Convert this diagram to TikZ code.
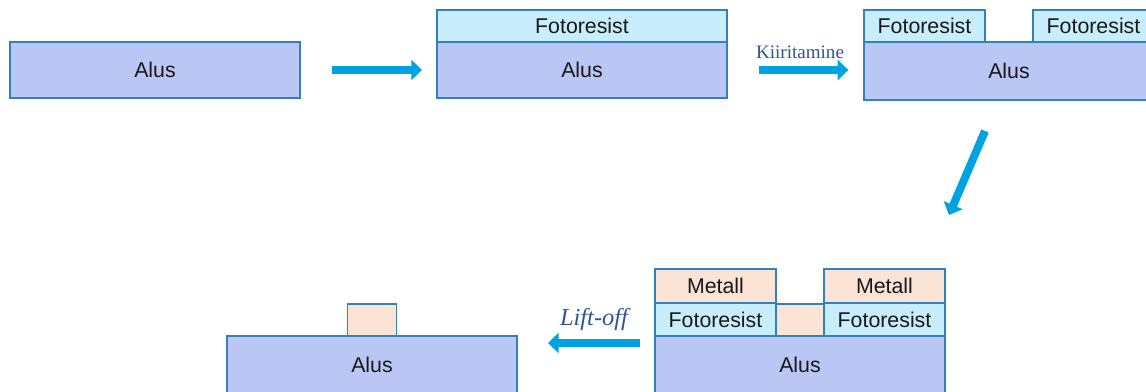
\documentclass[tikz,border=0pt]{standalone}
\usepackage{fontspec}
\setmainfont{Liberation Sans}
\newfontfamily\serifrm{Liberation Serif}
\usetikzlibrary{arrows.meta,positioning}
\definecolor{alusfill}{HTML}{BAC6F3}
\definecolor{resfill}{HTML}{C8EEFD}
\definecolor{metfill}{HTML}{FBE4D5}
\definecolor{edgeblue}{HTML}{3380BE}
\definecolor{arrowblue}{HTML}{00A2E2}
\definecolor{textblue}{HTML}{2F5597}

\tikzset{
  layer/.style={draw=edgeblue, line width=0.8pt, inner sep=0pt, outer sep=0pt,
    font=\fontsize{16}{18}\selectfont, text=black!90},
  alus/.style={layer, fill=alusfill, anchor=north west, minimum width=217.5pt},
  resist/.style={layer, fill=resfill, anchor=south west},
  metal/.style={layer, fill=metfill, anchor=south west},
  blockarrow/.style={draw=arrowblue, line width=5.5pt, -{Triangle[length=8pt,width=15pt]}},
  steplabel/.style={text=textblue, inner sep=0pt},
}

\begin{document}
\begin{tikzpicture}[x=0.75pt,y=-0.75pt]
\useasboundingbox (0,0) rectangle (1146,392);
\clip (0,0) rectangle (1146,392);

% step 1: bare substrate
\node[alus, minimum height=42pt] (alusA) at (10,42) {Alus};

% step 2: resist coated
\node[alus, minimum height=42pt] (alusB) at (437,42) {Alus};
\node[resist, minimum width=217.5pt, minimum height=24pt] (resB) at (alusB.north west) {Fotoresist};

% step 3: exposed and developed
\node[alus, minimum height=43.5pt] (alusC) at (864,42) {Alus};
\node[resist, minimum width=90.75pt, minimum height=24pt] (resCL) at (alusC.north west) {Fotoresist};
\node[resist, anchor=south east, minimum width=90.75pt, minimum height=24pt] (resCR) at (alusC.north east) {Fotoresist};

% step 4: metal deposited
\node[alus, minimum height=43.5pt] (alusD) at (655,336) {Alus};
\node[resist, minimum width=90.75pt, minimum height=24.75pt] (resDL) at (alusD.north west) {Fotoresist};
\node[resist, anchor=south east, minimum width=90.75pt, minimum height=24.75pt] (resDR) at (alusD.north east) {Fotoresist};
\node[metal, minimum width=90.75pt, minimum height=25.5pt] (metDL) at (resDL.north west) {Metall};
\node[metal, anchor=south east, minimum width=90.75pt, minimum height=25.5pt] (metDR) at (resDR.north east) {Metall};
\node[metal, anchor=south, minimum width=36pt, minimum height=24pt] (metDM) at (alusD.north) {};

% step 5: after lift-off
\node[alus, minimum height=43.5pt] (alusE) at (227,336) {Alus};
\node[metal, anchor=south, minimum width=36.75pt, minimum height=24pt] (metE) at (alusE.north) {};

% arrows
\coordinate (turnA) at (985,131);
\coordinate (turnB) at (949,215);
\coordinate (liftA) at (640,343);
\coordinate (liftB) at (548,343);
\draw[blockarrow] ([xshift=24pt]alusA.east) -- ([xshift=-11.25pt]alusB.west);
\draw[blockarrow] ([xshift=24pt]alusB.east) -- ([xshift=91pt]alusB.east);
\draw[blockarrow, line width=6pt] (turnA) -- (turnB);
\draw[blockarrow] (liftA) -- (liftB);

\node[steplabel, font=\serifrm\fontsize{14.3}{16}\selectfont] (kiir) at (800,52) {Kiiritamine};
\node[steplabel, font=\serifrm\itshape\fontsize{18.3}{20}\selectfont] (lift) at (594,320) {Lift-off};
\end{tikzpicture}
\end{document}
